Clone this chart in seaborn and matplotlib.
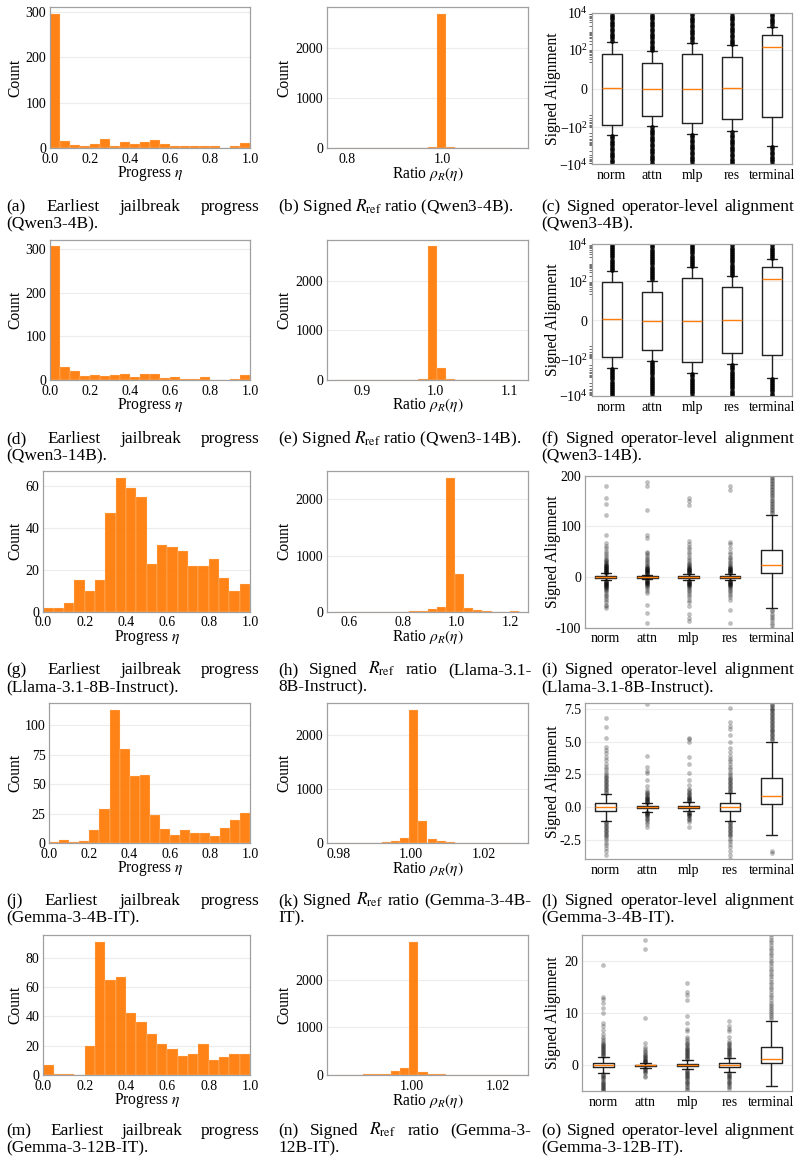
import numpy as np
import pandas as pd
import matplotlib
matplotlib.use("Agg")
import matplotlib.pyplot as plt
import seaborn as sns
from matplotlib.ticker import FormatStrFormatter

# ----------------------------- DATA -----------------------------
models = ["Qwen3-4B", "Qwen3-14B", "Llama-3.1-8B-Instruct", "Gemma-3-4B-IT", "Gemma-3-12B-IT"]
operators = ["norm", "attn", "mlp", "res", "terminal"]

# earliest jailbreak progress histograms (20 bins over [0, 1])
prog_qwen4b = [295, 16, 7, 5, 9, 21, 5, 14, 9, 14, 18, 9, 4, 6, 6, 6, 4, 1, 6, 12]
prog_qwen14b = [307, 31, 21, 9, 11, 9, 11, 14, 8, 13, 13, 5, 7, 2, 2, 6, 1, 1, 2, 11]
prog_llama = [2, 2, 4, 15, 10, 15, 47, 64, 59, 55, 23, 32, 31, 29, 22, 22, 25, 16, 10, 13]
prog_gemma4b = [1, 3, 1, 2, 11, 29, 113, 80, 57, 58, 24, 12, 7, 11, 9, 9, 6, 13, 20, 26]
prog_gemma12b = [7, 1, 1, 0, 20, 91, 65, 67, 42, 36, 28, 21, 18, 13, 14, 21, 10, 12, 14, 14]
prog_yticks = [[0, 100, 200, 300], [0, 100, 200, 300], [0, 20, 40, 60],
               [0, 25, 50, 75, 100], [0, 20, 40, 60, 80]]

# signed R_ref ratio histograms (20 bins between min and max)
ratio_range_qwen4b = (0.777, 1.162)
ratio_qwen4b = [1, 0, 0, 0, 0, 0, 0, 0, 0, 10, 27, 2680, 25, 6, 4, 1, 5, 0, 0, 1]
ratio_range_qwen14b = (0.865, 1.113)
ratio_qwen14b = [1, 0, 0, 0, 0, 0, 0, 0, 3, 15, 2693, 236, 18, 8, 6, 2, 0, 0, 0, 1]
ratio_range_llama = (0.551, 1.232)
ratio_llama = [1, 0, 0, 0, 0, 0, 3, 3, 5, 18, 42, 89, 2385, 670, 71, 30, 12, 3, 2, 8]
ratio_range_gemma4b = (0.9793, 1.0296)
ratio_gemma4b = [1, 3, 3, 3, 5, 18, 49, 92, 2462, 418, 80, 43, 25, 12, 3, 0, 0, 0, 0, 1]
ratio_range_gemma12b = (0.98265, 1.0248)
ratio_gemma12b = [1, 2, 4, 12, 12, 20, 84, 140, 2807, 70, 28, 20, 8, 5, 10, 0, 0, 0, 0, 1]
ratio_xticks = [[0.8, 1.0], [0.9, 1.0, 1.1], [0.6, 0.8, 1.0, 1.2], [0.98, 1.00, 1.02], [1.00, 1.02]]
ratio_xfmt = ["%.1f", "%.1f", "%.1f", "%.2f", "%.2f"]

# signed operator-level alignment boxplots: (whislo, q1, median, q3, whishi)
box_qwen4b = [(-260, -71, 0.4, 60, 270), (-88, -23, -0.2, 19.5, 84), (-229, -58, -0.2, 55, 240),
              (-165, -35, 0.3, 41, 172), (-1000, -27, 139, 655, 1715)]
fliers_qwen4b = [
    [300, 400, 540, 730, 980, 1300, 1800, 2400, 3200, 4300, 5800, 7800, 10500,
     -290, -390, -520, -700, -950, -1300, -1700, -2300, -3100, -4200, -5700, -7700, -10500],
    [95, 125, 165, 220, 300, 400, 540, 730, 980, 1300, 1800, 2400, 3200, 4300, 5800, 7800, 10500,
     -100, -130, -175, -235, -315, -420, -570, -770, -1030, -1400, -1900, -2500, -3400, -4600, -6200, -8300, -11000],
    [270, 360, 490, 660, 890, 1200, 1600, 2200, 3000, 4000, 5400, 7300, 9800, 13000,
     -260, -350, -470, -640, -860, -1150, -1550, -2100, -2800, -3800, -5100, -6900, -9300, -12500],
    [195, 260, 350, 470, 640, 860, 1150, 1550, 2100, 2800, 3800, 5100, 6900, 9300, 12500,
     -185, -250, -340, -460, -620, -830, -1120, -1500, -2000, -2700, -3700, -5000, -6700, -9000, -12000],
    [1950, 2600, 3500, 4700, 6300, 8500, 11500,
     -1150, -1550, -2100, -2800, -3800, -5100, -6900, -9300, -12500],
]
box_qwen14b = [(-305, -77, 0.8, 95, 360), (-122, -32, -0.5, 26, 108), (-590, -150, -0.2, 144, 568),
               (-185, -47, 0.3, 51, 185), (-1057, -63, 133, 568, 1535)]
fliers_qwen14b = [
    [400, 520, 680, 880, 1150, 1500, 1950, 2550, 3300, 4300, 5600, 7300, 9500, 12500,
     -340, -440, -570, -740, -960, -1250, -1650, -2150, -2800, -3600, -4700, -6100, -8000, -10500],
    [125, 165, 215, 280, 365, 475, 620, 810, 1050, 1370, 1800, 2350, 3050, 4000, 5200, 6800, 8800, 11500,
     -140, -180, -235, -305, -400, -520, -680, -880, -1150, -1500, -1950, -2550, -3300, -4300, -5600,
     -7300, -9500, -12500],
    [650, 850, 1100, 1450, 1900, 2450, 3200, 4200, 5500, 7100, 9300, 12000,
     -670, -870, -1130, -1480, -1930, -2500, -3250, -4250, -5500, -7200, -9400, -12200],
    [210, 275, 360, 470, 610, 800, 1040, 1360, 1770, 2300, 3000, 3900, 5100, 6700, 8700, 11300,
     -210, -275, -360, -470, -610, -800, -1040, -1360, -1770, -2300, -3000, -3900, -5100, -6700,
     -8700, -11300],
    [1750, 2300, 3000, 3900, 5100, 6700, 8700, 11300,
     -1200, -1550, -2000, -2600, -3400, -4400, -5700, -7400, -9600, -12500],
]
box_llama = [(-6.5, -1.5, 0.2, 2.0, 7), (-4, -1, 0, 1.5, 4.5), (-6, -1.5, 0, 2, 6.5),
             (-6, -1.5, 0.2, 2, 6.5), (-62, 8, 24, 53, 123)]
fliers_llama = [
    [7.5, 8, 9, 10, 11, 12, 13, 14, 15, 16, 17, 18, 19, 20, 21, 22, 23, 24, 25, 27, 29, 31, 33, 36,
     40, 44, 48, 52, 58, 62, 67, 82, 122, 145, 155, 179,
     -7, -8, -9, -10, -11, -12, -13, -14, -15, -16, -17, -18, -19, -20, -22, -24, -26, -28, -31,
     -35, -38, -42, -46, -50, -55, -58, -62],
    [5, 6, 7, 8, 9, 10, 11, 12, 13, 14, 15, 16, 17, 18, 20, 22, 24, 27, 30, 33, 36, 40, 44, 47, 50,
     77, 82, 132, 180, 188,
     -5, -6, -7, -8, -9, -10, -11, -12, -13, -14, -16, -18, -20, -23, -27, -31, -55, -70, -90],
    [7, 8, 9, 10, 11, 12, 13, 14, 15, 16, 17, 18, 20, 22, 24, 26, 28, 31, 35, 40, 45, 50, 55, 60,
     66, 72, 143, 150, 155,
     -7, -8, -9, -10, -11, -12, -13, -14, -15, -16, -18, -20, -22, -25, -28, -32, -36, -40, -45,
     -50, -58, -72, -80, -87],
    [7, 8, 9, 10, 11, 12, 13, 14, 15, 16, 17, 18, 20, 22, 24, 27, 30, 33, 37, 40, 45, 50, 58, 65,
     70, 172, 180,
     -7, -8, -9, -10, -11, -12, -13, -14, -15, -16, -18, -20, -22, -25, -28, -32, -36, -40, -45, -65, -90],
    [126, 129, 132, 135, 138, 141, 144, 147, 150, 153, 156, 159, 162, 165, 168, 171, 174, 177, 180,
     183, 186, 189, 192, 195, 198, 202,
     -65, -68, -72, -76, -80, -84, -90, -95, -100],
]
box_gemma4b = [(-1.05, -0.25, 0.0, 0.3, 1.05), (-0.33, -0.08, 0.0, 0.1, 0.3), (-0.3, -0.06, 0.02, 0.12, 0.4),
               (-1.05, -0.25, 0.0, 0.33, 1.1), (-2.1, 0.25, 0.85, 2.2, 5.0)]
fliers_gemma4b = [
    [1.1, 1.2, 1.3, 1.4, 1.5, 1.6, 1.7, 1.8, 1.9, 2.0, 2.1, 2.2, 2.3, 2.4, 2.5, 2.7, 2.9, 3.1, 3.3,
     3.6, 3.8, 4.1, 4.4, 4.6, 5.3, 6.1, 6.8,
     -1.1, -1.2, -1.3, -1.4, -1.5, -1.6, -1.7, -1.8, -1.9, -2.0, -2.1, -2.2, -2.3, -2.5, -2.7, -2.9,
     -3.1, -3.3, -3.6],
    [0.35, 0.4, 0.45, 0.5, 0.55, 0.6, 0.65, 0.7, 0.75, 0.8, 0.9, 1.0, 1.1, 1.2, 1.3, 1.6, 2.1, 2.6,
     2.8, 3.1, 3.9, 7.9,
     -0.35, -0.4, -0.45, -0.5, -0.55, -0.6, -0.7, -0.8, -0.9, -1.0, -1.1, -1.3, -1.5],
    [0.45, 0.5, 0.55, 0.6, 0.65, 0.7, 0.75, 0.8, 0.9, 1.0, 1.1, 1.2, 1.3, 1.4, 1.7, 2.1, 2.6, 3.3,
     3.8, 5.0, 5.2, 5.3,
     -0.35, -0.4, -0.45, -0.5, -0.55, -0.6, -0.7, -0.8, -0.9, -1.0, -1.1, -1.5],
    [1.15, 1.25, 1.35, 1.45, 1.55, 1.65, 1.75, 1.85, 1.95, 2.05, 2.15, 2.25, 2.35, 2.5, 2.7, 2.9,
     3.1, 3.3, 3.5, 3.7, 3.9, 4.2, 4.5, 5.0, 5.5, 6.0, 6.2, 6.5, 7.6,
     -1.1, -1.2, -1.3, -1.4, -1.5, -1.6, -1.7, -1.8, -1.9, -2.0, -2.1, -2.2, -2.4, -2.6, -2.8, -3.0,
     -3.3, -3.6, -3.9],
    [5.1, 5.2, 5.3, 5.4, 5.5, 5.6, 5.7, 5.8, 5.9, 6.0, 6.1, 6.2, 6.3, 6.4, 6.5, 6.6, 6.7, 6.8, 6.9,
     7.0, 7.1, 7.2, 7.3, 7.4, 7.5, 7.6, 7.7, 7.8, 7.9, -3.3, -3.45],
]
box_gemma12b = [(-1.5, -0.38, 0.0, 0.38, 1.5), (-0.45, -0.1, 0.0, 0.15, 0.5), (-0.7, -0.2, 0.1, 0.35, 1.0),
                (-1.3, -0.3, 0.0, 0.4, 1.4), (-3.9, 0.38, 1.15, 3.6, 8.5)]
fliers_gemma12b = [
    [1.7, 1.9, 2.1, 2.3, 2.5, 2.7, 2.9, 3.1, 3.3, 3.5, 3.7, 3.9, 4.1, 4.3, 4.6, 5.0, 5.5, 6.0, 6.8,
     7.5, 8.0, 10.0, 11.0, 12.0, 12.7, 13.0, 19.2,
     -1.7, -1.9, -2.1, -2.3, -2.5, -2.7, -2.9, -3.1, -3.3, -3.5, -3.7, -3.9, -4.1, -4.3, -4.5, -4.7, -4.9],
    [0.6, 0.7, 0.8, 0.9, 1.0, 1.2, 1.4, 1.6, 1.8, 2.0, 2.2, 2.5, 2.8, 3.1, 3.5, 4.2, 9.1, 22.3, 24.0,
     -0.6, -0.7, -0.8, -1.0, -1.2, -1.5, -2.0, -2.2],
    [1.2, 1.4, 1.6, 1.8, 2.0, 2.2, 2.4, 2.6, 2.8, 3.0, 3.2, 3.4, 3.6, 3.8, 4.0, 4.3, 4.6, 5.0, 5.4,
     6.5, 7.0, 8.0, 9.5, 12.5, 13.5, 14.0, 15.8,
     -0.9, -1.1, -1.3, -1.5, -1.7, -1.9, -2.1, -2.3, -2.5, -2.7, -2.9, -3.1, -3.3, -3.6, -3.9, -4.2,
     -4.5, -4.8],
    [1.6, 1.8, 2.0, 2.2, 2.4, 2.6, 2.8, 3.0, 3.2, 3.4, 3.6, 3.8, 4.0, 4.3, 4.6, 5.5, 6.5, 7.0, 7.5, 8.5,
     -1.5, -1.7, -1.9, -2.1, -2.3, -2.5, -2.7, -2.9, -3.1, -3.3, -3.6, -3.9, -4.2, -4.5],
    [8.8, 9.2, 9.6, 10.0, 10.4, 10.8, 11.2, 11.6, 12.0, 12.5, 13.0, 13.5, 14.0, 14.5, 15.0, 15.5,
     16.0, 16.5, 17.0, 17.5, 18.0, 18.5, 19.0, 19.5, 20.0, 20.5, 21, 21.5, 22, 22.5, 23, 23.5, 24,
     24.5, 25],
]
align_ylims = [(-1e4, 1e4), (-1e4, 1e4), (-100, 200), (-3.96, 7.92), (-4.9, 24.9)]
align_yticks = [[-1e4, -1e2, 0, 1e2, 1e4], [-1e4, -1e2, 0, 1e2, 1e4], [-100, 0, 100, 200],
                [-2.5, 0.0, 2.5, 5.0, 7.5], [0, 10, 20]]

captions_col1 = [["(a) Earliest jailbreak progress", "(Qwen3-4B)."],
                 ["(d) Earliest jailbreak progress", "(Qwen3-14B)."],
                 ["(g) Earliest jailbreak progress", "(Llama-3.1-8B-Instruct)."],
                 ["(j) Earliest jailbreak progress", "(Gemma-3-4B-IT)."],
                 ["(m) Earliest jailbreak progress", "(Gemma-3-12B-IT)."]]
captions_col2 = [["(b) Signed $R_{\\mathrm{ref}}$ ratio (Qwen3-4B)."],
                 ["(e) Signed $R_{\\mathrm{ref}}$ ratio (Qwen3-14B)."],
                 ["(h) Signed $R_{\\mathrm{ref}}$ ratio (Llama-3.1-", "8B-Instruct)."],
                 ["(k) Signed $R_{\\mathrm{ref}}$ ratio (Gemma-3-4B-", "IT)."],
                 ["(n) Signed $R_{\\mathrm{ref}}$ ratio (Gemma-3-", "12B-IT)."]]
captions_col3 = [["(c) Signed operator-level alignment", "(Qwen3-4B)."],
                 ["(f) Signed operator-level alignment", "(Qwen3-14B)."],
                 ["(i) Signed operator-level alignment", "(Llama-3.1-8B-Instruct)."],
                 ["(l) Signed operator-level alignment", "(Gemma-3-4B-IT)."],
                 ["(o) Signed operator-level alignment", "(Gemma-3-12B-IT)."]]

prog_all = [prog_qwen4b, prog_qwen14b, prog_llama, prog_gemma4b, prog_gemma12b]
ratio_all = [ratio_qwen4b, ratio_qwen14b, ratio_llama, ratio_gemma4b, ratio_gemma12b]
ratio_ranges = [ratio_range_qwen4b, ratio_range_qwen14b, ratio_range_llama,
                ratio_range_gemma4b, ratio_range_gemma12b]
box_all = [box_qwen4b, box_qwen14b, box_llama, box_gemma4b, box_gemma12b]
fliers_all = [fliers_qwen4b, fliers_qwen14b, fliers_llama, fliers_gemma4b, fliers_gemma12b]

# ----------------------------- STYLE -----------------------------
sns.set_theme(style="white")
plt.rcParams.update({
    "font.family": ["Liberation Serif", "DejaVu Serif"],
    "mathtext.fontset": "stix",
    "text.color": "black",
    "axes.labelcolor": "black",
    "xtick.color": "black",
    "ytick.color": "black",
    "axes.unicode_minus": True,
})
ORANGE = "#ff7f0e"
TICK_FS = 10
LABEL_FS = 11.2
CAP_FS = 12.5

W, H = 805, 1166
fig = plt.figure(figsize=(W / 100, H / 100), dpi=100)


def rect(l, t, r, b):
    return [l / W, 1 - b / H, (r - l) / W, (b - t) / H]


def fx(x):
    return x / W


def fy(y):
    return 1 - y / H


def style_axes(ax):
    for s in ax.spines.values():
        s.set_visible(True)
        s.set_color("#a0a0a0")
        s.set_linewidth(0.9)
    ax.yaxis.grid(True, color="#ececec", linewidth=0.8)
    ax.xaxis.grid(False)
    ax.set_axisbelow(True)
    ax.tick_params(axis="both", which="major", length=0, labelsize=TICK_FS)
    ax.tick_params(axis="x", which="major", pad=3.3)
    ax.tick_params(axis="y", which="major", pad=2.7)


def place_labels(ax, top, bottom, left, right, ylab_x, xlabel=None, ylabel=None):
    if ylabel is not None:
        ax.set_ylabel(ylabel, fontsize=LABEL_FS)
        ax.yaxis.label.set_va("center")
        ax.yaxis.set_label_coords(fx(ylab_x), fy((top + bottom) / 2), transform=fig.transFigure)
    if xlabel is not None:
        ax.set_xlabel(xlabel, fontsize=LABEL_FS)
        ax.xaxis.label.set_va("center")
        ax.xaxis.set_label_coords(fx((left + right) / 2), fy(bottom + 25.5), transform=fig.transFigure)
    else:
        ax.set_xlabel("")


def hist(ax, edges, counts):
    centers = (edges[:-1] + edges[1:]) / 2
    df = pd.DataFrame({"value": centers, "count": np.asarray(counts, dtype=float)})
    sns.histplot(data=df, x="value", weights="count", bins=[float(e) for e in edges], ax=ax,
                 color=ORANGE, alpha=0.97, edgecolor=(1.0, 0.85, 0.7, 0.6), linewidth=0.35)


# layout (pixels)
row_top = [7.3, 239.7, 471, 703.3, 935]
row_bot = [148.3, 380, 611.7, 843.3, 1075]
c1_left = [50, 50, 43.3, 49.3, 43.3]
c1_right = 250
c2_left, c2_right = 326.7, 528.3
c3_left = [591.7, 591.7, 585, 585, 582.3]
c3_right = 792.3
c3_top = [12.7, 244.3, 475.7, 703.3, 935]
c3_bot = [164.3, 396, 627.7, 859.3, 1091]
cap_y = [205, 437, 668, 899, 1129]
cap_blocks = [(6.7, 260), (278.3, 531.5), (541.7, 794)]

prog_edges = np.linspace(0, 1, 21)

for i in range(5):
    # ---- column 1: earliest jailbreak progress ----
    ax = fig.add_axes(rect(c1_left[i], row_top[i], c1_right, row_bot[i]))
    hist(ax, prog_edges, prog_all[i])
    style_axes(ax)
    ax.set_xlim(0, 1)
    ax.set_xticks([0, 0.2, 0.4, 0.6, 0.8, 1.0])
    ax.xaxis.set_major_formatter(FormatStrFormatter("%.1f"))
    ax.set_yticks(prog_yticks[i])
    ax.yaxis.set_major_formatter(FormatStrFormatter("%d"))
    place_labels(ax, row_top[i], row_bot[i], c1_left[i], c1_right, 15,
                 xlabel="Progress $\\eta$", ylabel="Count")

    # ---- column 2: signed R_ref ratio ----
    ax = fig.add_axes(rect(c2_left, row_top[i], c2_right, row_bot[i]))
    lo, hi = ratio_ranges[i]
    edges = np.linspace(lo, hi, 21)
    hist(ax, edges, ratio_all[i])
    style_axes(ax)
    span = hi - lo
    ax.set_xlim(lo - 0.05 * span, hi + 0.05 * span)
    ax.set_xticks(ratio_xticks[i])
    ax.xaxis.set_major_formatter(FormatStrFormatter(ratio_xfmt[i]))
    ax.set_yticks([0, 1000, 2000])
    ax.yaxis.set_major_formatter(FormatStrFormatter("%d"))
    place_labels(ax, row_top[i], row_bot[i], c2_left, c2_right, 284,
                 xlabel="Ratio $\\rho_R(\\eta)$", ylabel="Count")

    # ---- column 3: signed operator-level alignment ----
    ax = fig.add_axes(rect(c3_left[i], c3_top[i], c3_right, c3_bot[i]))
    stats = []
    for (wlo, q1, med, q3, whi), fl, name in zip(box_all[i], fliers_all[i], operators):
        stats.append({"whislo": wlo, "q1": q1, "med": med, "q3": q3, "whishi": whi,
                      "fliers": np.array(fl, dtype=float), "label": name})
    symlog = i < 2
    flier_alpha = 0.85 if symlog else 0.25
    line_kw = dict(color="#222222", linewidth=1.0)
    ax.bxp(stats, positions=[1, 2, 3, 4, 5], widths=0.5, showfliers=True,
           boxprops=line_kw, whiskerprops=line_kw, capprops=line_kw,
           medianprops=dict(color=ORANGE, linewidth=1.0),
           flierprops=dict(marker="o", markersize=3.4, markerfacecolor="black",
                           markeredgecolor="none", alpha=flier_alpha))
    style_axes(ax)
    if symlog:
        ax.set_yscale("symlog", linthresh=10, subs=[2, 3, 4, 5, 6, 7, 8, 9])
        ax.tick_params(axis="y", which="minor", left=True, length=2.5, width=0.6, color="#555555")
    ax.set_ylim(*align_ylims[i])
    ax.set_yticks(align_yticks[i])
    if not symlog:
        if i == 3:
            ax.yaxis.set_major_formatter(FormatStrFormatter("%.1f"))
        else:
            ax.yaxis.set_major_formatter(FormatStrFormatter("%d"))
    ax.set_xlim(0.5, 5.5)
    ax.set_xticks([1, 2, 3, 4, 5])
    ax.set_xticklabels(operators)
    ax.tick_params(axis="x", which="minor", bottom=False)
    place_labels(ax, c3_top[i], c3_bot[i], c3_left[i], c3_right, 552.5,
                 xlabel=None, ylabel="Signed Alignment")

# ----------------------------- CAPTIONS -----------------------------
renderer = fig.canvas.get_renderer()


def caption(lines, x0, x1, yc):
    for li, line in enumerate(lines):
        yb = yc + li * 17.5 + 6
        if li == 0 and len(lines) > 1:
            words = line.split(" ")
            ts = [fig.text(0, fy(yb), w, fontsize=CAP_FS, ha="left", va="baseline") for w in words]
            widths = [t.get_window_extent(renderer=renderer).width for t in ts]
            gap = (x1 - x0 - sum(widths)) / (len(words) - 1)
            x = x0
            for t, wd in zip(ts, widths):
                t.set_x(fx(x))
                x += wd + gap
        else:
            fig.text(fx(x0), fy(yb), line, fontsize=CAP_FS, ha="left", va="baseline")


for i in range(5):
    caption(captions_col1[i], *cap_blocks[0], cap_y[i])
    caption(captions_col2[i], *cap_blocks[1], cap_y[i])
    caption(captions_col3[i], *cap_blocks[2], cap_y[i])

fig.savefig("out.png", dpi=100)
